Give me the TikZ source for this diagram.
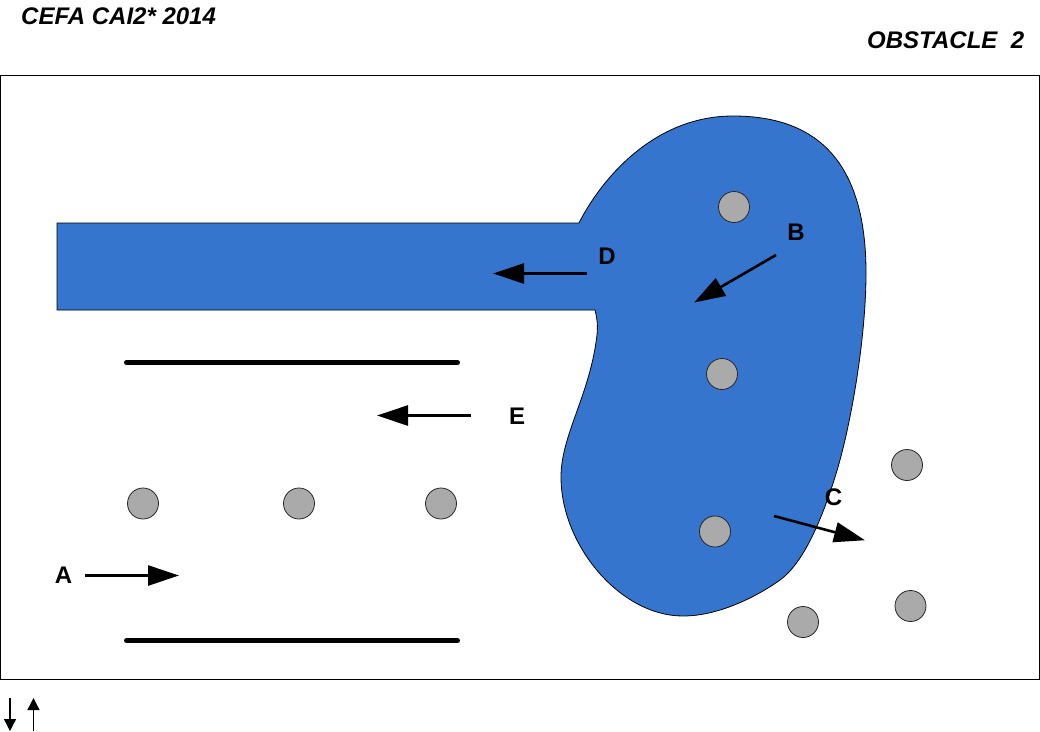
\documentclass[tikz,border=0pt]{standalone}
\usepackage{fontspec}
\setmainfont{Liberation Sans}
\usetikzlibrary{positioning,arrows.meta}
\definecolor{waterblue}{RGB}{54,117,205}
\definecolor{buoygray}{RGB}{170,170,170}
\tikzset{
  buoy/.style={circle,draw=black!85,fill=buoygray,line width=0.8pt,minimum size=31pt,inner sep=0pt},
  flow/.style={line width=2.6pt,-{Triangle[length=31pt,width=20pt]},shorten >=-1pt},
  wall/.style={line width=5pt,line cap=round},
  tag/.style={font=\fontsize{24}{26}\selectfont\bfseries,inner sep=0pt,text=black},
  title/.style={font=\fontsize{24}{26}\selectfont\bfseries\itshape,inner sep=0pt,anchor=base west},
  small/.style={line width=1.3pt,-{Triangle[length=12pt,width=12pt]}}
}
\begin{document}
\begin{tikzpicture}[x=1pt,y=-1pt]
\useasboundingbox (0,0) rectangle (1040,731);
\node [title] (event) at (21,24) {CEFA CAI2* 2014};
\node [title] (obstacle) at (867,48) {OBSTACLE\ \ 2};
\draw [black,line width=1pt] (0.5,75.5) rectangle (1039.5,679.5);
% channel and pond
\draw [fill=waterblue,draw=black,line width=0.8pt] (57,223) -- (579,223)
  .. controls (598,185) and (650,116) .. (733,116)
  .. controls (820,116) and (866,165) .. (866,273)
  .. controls (866,340) and (850,430) .. (835,477)
  .. controls (820,525) and (802,564) .. (780,580)
  .. controls (762,593) and (722,616) .. (683,616)
  .. controls (620,616) and (561,545) .. (561,477)
  .. controls (561,435) and (590,395) .. (597,335)
  .. controls (598,325) and (597,318) .. (595,310)
  -- (57,310) -- cycle;
% walls
\coordinate (w1) at (126.5,362.5);
\coordinate (w2) at (457.5,362.5);
\coordinate (w3) at (126.5,640.5);
\coordinate (w4) at (457.5,640.5);
\draw [wall] (w1) -- (w2);
\draw [wall] (w3) -- (w4);
% buoys
\node [buoy] (b1) at (143,503.5) {};
\node [buoy] (b2) at (299,503.5) {};
\node [buoy] (b3) at (441,503.5) {};
\node [buoy] (b4) at (734,207) {};
\node [buoy] (b5) at (722,374) {};
\node [buoy] (b6) at (715,531.5) {};
\node [buoy] (b7) at (907,465) {};
\node [buoy] (b8) at (910.5,606) {};
\node [buoy] (b9) at (803,622) {};
% labels
\node [tag] (la) at (63.5,575) {A};
\node [tag] (lb) at (796,232) {B};
\node [tag] (lc) at (833.5,497) {C};
\node [tag] (ld) at (607,256) {D};
\node [tag] (le) at (517,416) {E};
% flow arrows
\coordinate (a1) at (85,575.5);
\coordinate (a2) at (178,575.5);
\coordinate (b1s) at (776,255);
\coordinate (b1e) at (695,302);
\coordinate (c1) at (774,516);
\coordinate (c2) at (864,540);
\coordinate (d1) at (587,273.5);
\coordinate (d2) at (494,273.5);
\coordinate (e1) at (471,415.5);
\coordinate (e2) at (378,415.5);
\draw [flow] (a1) -- (a2);
\draw [flow] (b1s) -- (b1e);
\draw [flow] (c1) -- (c2);
\draw [flow] (d1) -- (d2);
\draw [flow] (e1) -- (e2);
% small arrows below the frame
\coordinate (s1) at (10,698);
\coordinate (s2) at (10,731);
\coordinate (s3) at (33.5,731);
\coordinate (s4) at (33.5,698);
\draw [small] (s1) -- (s2);
\draw [small] (s3) -- (s4);
\end{tikzpicture}
\end{document}
